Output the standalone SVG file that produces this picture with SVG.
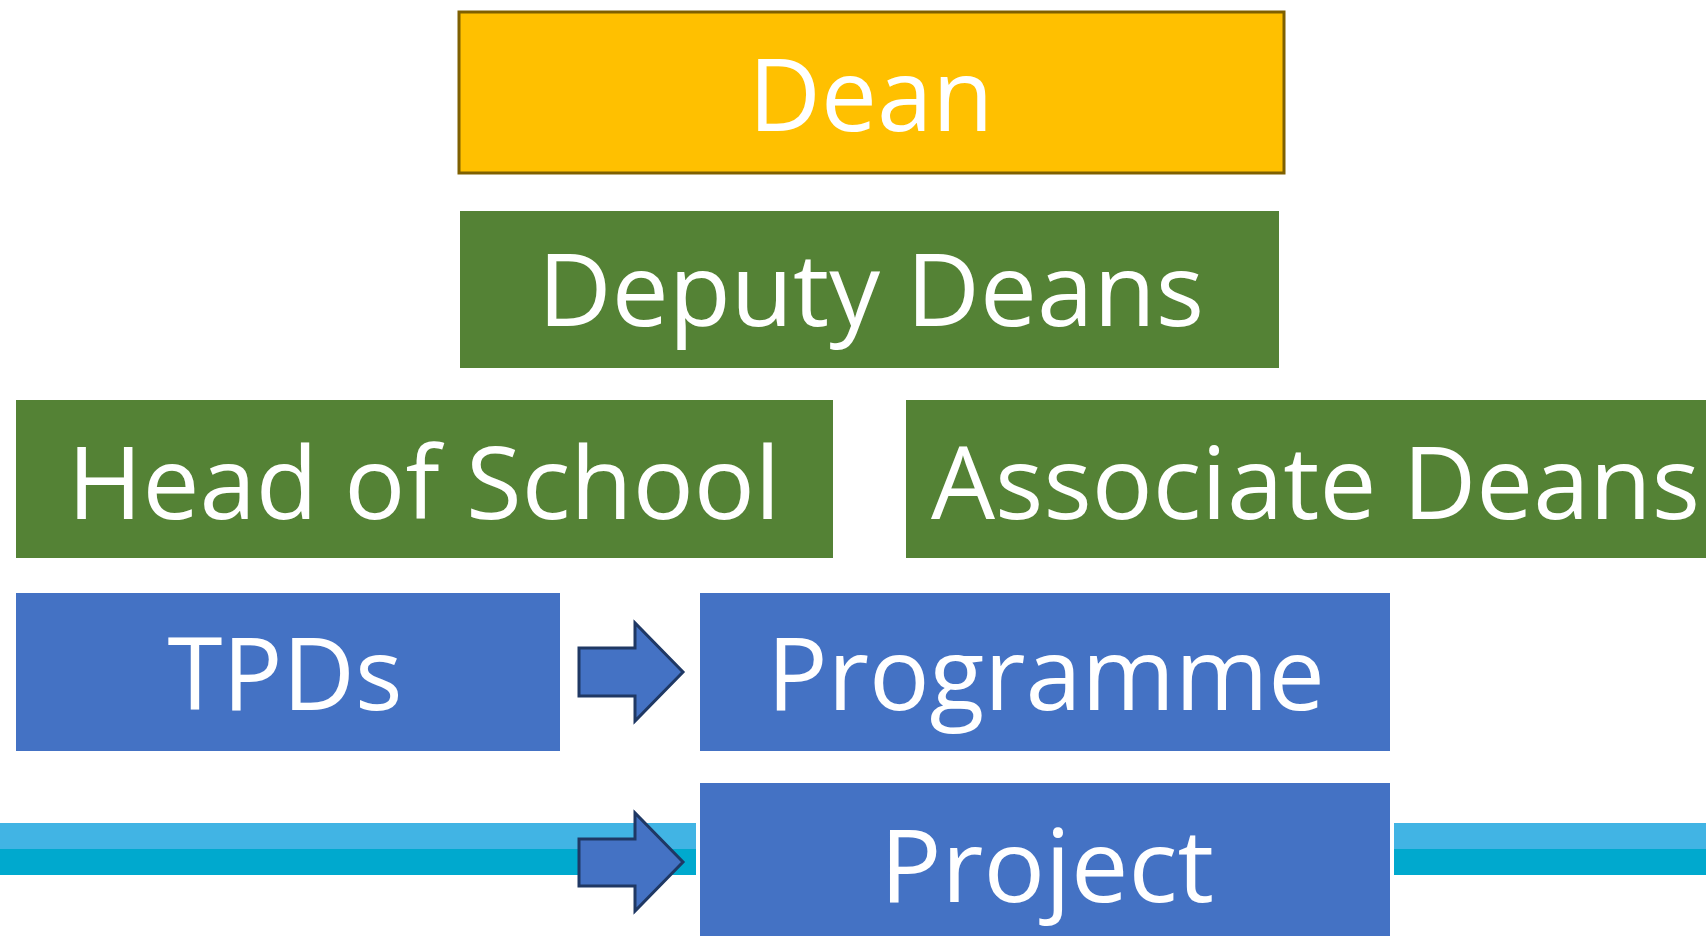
<svg xmlns="http://www.w3.org/2000/svg" width="1706" height="936" viewBox="0 0 1706 936">
<style>
.lbl{font-family:"Open Sans","Noto Sans","Liberation Sans",sans-serif;font-size:101px;fill:#ffffff;}
.green{fill:#548235;}
.blue{fill:#4472C4;}
.arrow{fill:#4472C4;stroke:#1F3864;stroke-width:3;stroke-linejoin:miter;}
</style>
<rect width="1706" height="936" fill="#ffffff"/>
<g id="bands">
<rect x="0" y="823" width="696" height="26" fill="#41B4E4"/>
<rect x="0" y="849" width="696" height="26" fill="#00A9CE"/>
<rect x="1394" y="823" width="312" height="26" fill="#41B4E4"/>
<rect x="1394" y="849" width="312" height="26" fill="#00A9CE"/>
</g>
<g id="dean">
<rect x="459" y="12" width="825" height="161" fill="#FFC000" stroke="#7F6000" stroke-width="3"/>
<text class="lbl" x="871" y="131" text-anchor="middle" textLength="245" lengthAdjust="spacingAndGlyphs">Dean</text>
</g>
<g id="deputy-deans">
<rect class="green" x="460" y="211" width="819" height="157"/>
<text class="lbl" x="871" y="326" text-anchor="middle" textLength="666" lengthAdjust="spacingAndGlyphs">Deputy Deans</text>
</g>
<g id="head-of-school">
<rect class="green" x="16" y="400" width="817" height="158"/>
<text class="lbl" x="424" y="519" text-anchor="middle" textLength="713" lengthAdjust="spacingAndGlyphs">Head of School</text>
</g>
<g id="associate-deans">
<rect class="green" x="906" y="400" width="800" height="158"/>
<text class="lbl" x="931" y="519" textLength="769" lengthAdjust="spacingAndGlyphs">Associate Deans</text>
</g>
<g id="tpds">
<rect class="blue" x="16" y="593" width="544" height="158"/>
<text class="lbl" x="285" y="710" text-anchor="middle" textLength="235" lengthAdjust="spacingAndGlyphs">TPDs</text>
</g>
<g id="programme">
<rect class="blue" x="700" y="593" width="690" height="158"/>
<text class="lbl" x="1046" y="710" text-anchor="middle" textLength="558" lengthAdjust="spacingAndGlyphs">Programme</text>
</g>
<g id="project">
<rect class="blue" x="700" y="783" width="690" height="153"/>
<text class="lbl" x="1047" y="902" text-anchor="middle" textLength="334" lengthAdjust="spacingAndGlyphs">Project</text>
</g>
<g id="connectors">
<path class="arrow" d="M579,648 H635 V623 L683,672 L635,721 V696 H579 Z"/>
<path class="arrow" d="M579,839 H635 V813 L683,862 L635,911 V886 H579 Z"/>
</g>
</svg>
